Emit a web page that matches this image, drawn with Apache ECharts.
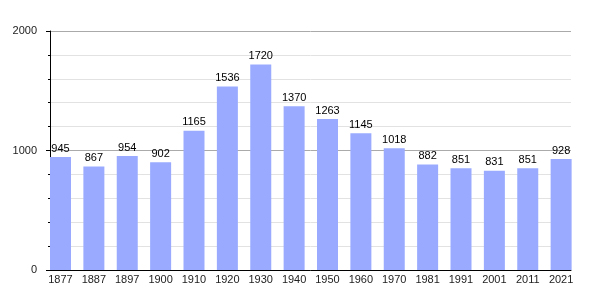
<!DOCTYPE html>
<html><head><meta charset="utf-8">
<script src="https://cdn.jsdelivr.net/npm/echarts@6/dist/echarts.min.js"></script>
<style>html,body{margin:0;padding:0;background:#fff}#c{width:600px;height:300px}</style>
</head><body><div id="c"></div>
<script>
const years = ['1877','1887','1897','1900','1910','1920','1930','1940','1950','1960','1970','1981','1991','2001','2011','2021'];
const population = [945,867,954,902,1165,1536,1720,1370,1263,1145,1018,882,851,831,851,928];
const yTicks = {min:0, max:2000, interval:1000};

const chart = echarts.init(document.getElementById('c'), null, {renderer:'canvas'});
const font = '"Liberation Sans", Arial, sans-serif';
chart.setOption({
  animation:false,
  textStyle:{fontFamily:font},
  grid:[
    {left:50, right:29, top:31, bottom:30, containLabel:false},
    {left:50, right:16, top:31, bottom:30, containLabel:false}
  ],
  xAxis:[
    {type:'category', gridIndex:0, data:years, boundaryGap:true,
     axisLine:{show:true, lineStyle:{color:'#000', width:1}}, axisTick:{show:false}, axisLabel:{show:false}, splitLine:{show:false}},
    {type:'category', gridIndex:1, data:years, boundaryGap:true,
     axisLine:{show:false}, axisTick:{show:false},
     axisLabel:{show:true, margin:4, fontSize:11, color:'#222', fontFamily:font, align:'center', padding:[0,12.4,0,0], interval:0}}
  ],
  yAxis:[
    {type:'value', gridIndex:0, min:yTicks.min, max:yTicks.max, interval:yTicks.interval,
     axisLine:{show:true, lineStyle:{color:'#000', width:1}},
     axisTick:{show:true, inside:false, length:4, lineStyle:{color:'#000'}},
     minorTick:{show:true, splitNumber:5, length:2, lineStyle:{color:'#000'}},
     splitLine:{show:true, lineStyle:{color:'#aaa', width:1}},
     minorSplitLine:{show:true, lineStyle:{color:'#e2e2e2', width:1}},
     axisLabel:{margin:13, fontSize:11, color:'#222', fontFamily:font, formatter:function(v){return String(v);}}},
    {type:'value', gridIndex:1, min:yTicks.min, max:yTicks.max, interval:yTicks.interval, show:false}
  ],
  series:[
    {type:'bar', xAxisIndex:1, yAxisIndex:1, data:population, barWidth:21, barGap:'0%',
     itemStyle:{color:'#9aabff'},
     label:{show:true, position:'top', distance:3, fontSize:11, color:'#000', fontFamily:font}},
    {type:'bar', xAxisIndex:1, yAxisIndex:1, data:[], barWidth:12.375, barGap:'0%'}
  ]
});
</script></body></html>
